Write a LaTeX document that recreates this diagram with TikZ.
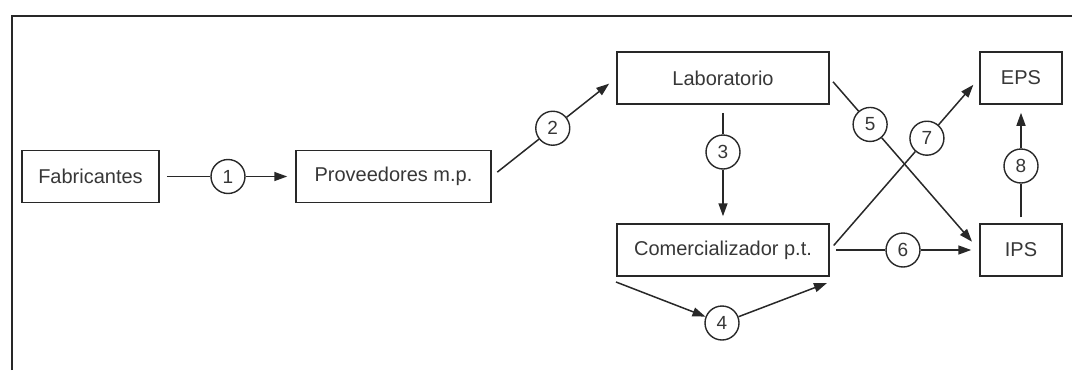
\documentclass[tikz,border=0pt]{standalone}
\usepackage{fontspec}
\setmainfont{Liberation Sans}
\usetikzlibrary{arrows.meta,calc}
\definecolor{ink}{RGB}{40,40,40}
\definecolor{txt}{RGB}{55,55,55}
\begin{document}
\begin{tikzpicture}[x=1pt,y=-1pt,
  box/.style={draw=ink,line width=1.5pt,minimum height=52pt,inner sep=0pt,text=txt,font=\fontsize{20}{24}\selectfont},
  num/.style={draw=ink,circle,line width=1.4pt,minimum size=34pt,inner sep=0pt,fill=white,text=txt,font=\fontsize{19}{22}\selectfont},
  con/.style={draw=ink,line width=1.5pt},
  arr/.style={con,-{Triangle[length=13pt,width=9pt]}}]
\useasboundingbox (0,0) rectangle (1072,370);
\draw[line width=2.6pt,ink] (12,370) -- (12,16) -- (1072,16);
\node[box,minimum width=137pt] (fab) at (90.5,176.5) {Fabricantes};
\node[box,minimum width=195pt] (prov) at (393.5,176.5) {Proveedores m.p.};
\node[box,minimum width=212pt] (lab) at (723,78) {Laboratorio};
\node[box,minimum width=212pt] (com) at (723,250) {Comercializador p.t.};
\node[box,minimum width=82pt] (eps) at (1021,78) {EPS};
\node[box,minimum width=82pt] (ips) at (1021,250) {IPS};
\node[num] (c1) at (228,176.5) {1};
\node[num] (c2) at ($(prov.east)!0.49!(lab.west)$) {2};
\node[num] (c3) at (723,152) {3};
\node[num] (c4) at (722,323) {4};
\node[num] (c5) at ($(lab.east)!0.27!(ips.west)$) {5};
\node[num] (c6) at ($(com.east)!0.49!(ips.west)$) {6};
\node[num] (c7) at ($(com.east)!0.65!(eps.west)$) {7};
\node[num] (c8) at (1021,166) {8};
\coordinate (c4a) at (616,282);
\coordinate (c4b) at (827,283);
% 1
\draw[con,shorten <=7pt] (fab.east) -- (c1);
\draw[arr,shorten >=8pt] (c1) -- (prov.west);
% 2
\draw[con,shorten <=7pt] (prov.east) -- (c2);
\draw[arr,shorten >=9pt] (c2) -- (lab.west);
% 3
\draw[con,shorten <=8pt] (lab.south) -- (c3);
\draw[arr,shorten >=7pt] (c3) -- (com.north);
% 4
\draw[arr] (c4a) -- (c4);
\draw[arr] (c4) -- (c4b);
% 5
\draw[con,shorten <=5pt] (lab.east) -- (c5);
\draw[arr,shorten >=11pt] (c5) -- (ips.west);
% 6
\draw[con,shorten <=6pt] (com.east) -- (c6);
\draw[arr,shorten >=8pt] (c6) -- (ips.west);
% 7
\draw[con,shorten <=6pt] (com.east) -- (c7);
\draw[arr,shorten >=9pt] (c7) -- (eps.west);
% 8
\draw[con,shorten <=6pt] (ips.north) -- (c8);
\draw[arr,shorten >=8pt] (c8) -- (eps.south);
\end{tikzpicture}
\end{document}
